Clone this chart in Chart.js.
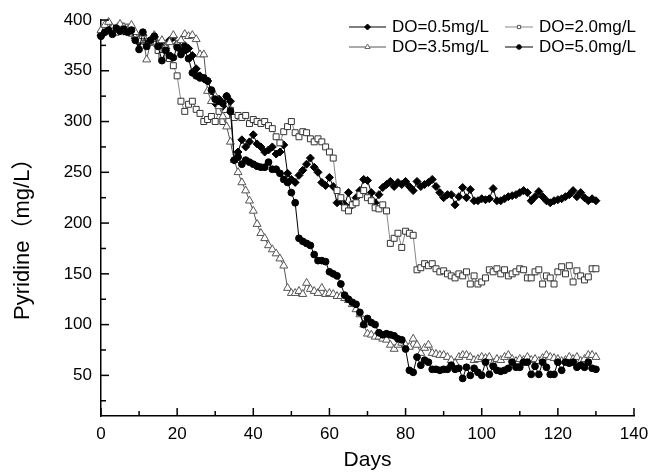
<!DOCTYPE html>
<html>
<head>
<meta charset="utf-8">
<script src="https://cdn.jsdelivr.net/npm/chart.js@4.4.1/dist/chart.umd.min.js"></script>
<style>
  html, body { margin: 0; padding: 0; background: #fff; }
  #wrap { width: 648px; height: 473px; position: relative; }
</style>
</head>
<body>
<div id="wrap"><canvas id="pyridineChart"></canvas></div>
<script>
// --- Data ---
const days = [
  0, 1, 2, 3, 4, 5, 6, 7, 8, 9, 10, 11, 12, 13, 14, 15, 16, 17, 18, 19, 20,
  21, 22, 23, 24, 25, 26, 27, 28, 29, 30, 31, 32, 33, 34, 35, 36, 37, 38, 39, 40,
  41, 42, 43, 44, 45, 46, 47, 48, 49, 50, 51, 52, 53, 54, 55, 56, 57, 58, 59, 60,
  61, 62, 63, 64, 65, 66, 67, 68, 69, 70, 71, 72, 73, 74, 75, 76, 77, 78, 79, 80,
  81, 82, 83, 84, 85, 86, 87, 88, 89, 90, 91, 92, 93, 94, 95, 96, 97, 98, 99, 100,
  101, 102, 103, 104, 105, 106, 107, 108, 109, 110, 111, 112, 113, 114, 115, 116, 117, 118, 119, 120,
  121, 122, 123, 124, 125, 126, 127, 128, 129, 130
];

const do05 = [
  385, 388, 390, 392, 390, 391, 389, 392, 390,
  382, 378, 385, 376, 380, 384, 374, 378, 372, 380, 383, 376,
  370, 375, 372, 365, 352, 345, 342, 340, 330, 318, 322, 315, 325, 320,
  262, 270, 282, 275, 280, 287, 278, 275, 270, 272, 275, 268, 270, 277,
  249, 243, 240, 247, 252, 258, 264, 255, 250, 240, 237, 245,
  236, 220, 222, 218, 230, 218, 225, 232, 243, 242,
  230, 220, 228, 235, 238, 241, 236, 240, 238, 241,
  236, 232, 241, 236, 238, 240, 243, 236, 230, 225,
  228, 228, 218, 226, 235, 225, 233, 222, 222, 224,
  223, 224, 234, 222, 222, 224, 226, 227, 228, 230,
  232, 230, 222, 226, 231, 226, 222, 220, 222, 223,
  224, 226, 228, 232, 226, 230, 225, 222, 224, 222
];

const do20 = [
  386, 390, 395, 392, 388, 394, 390, 393, 387,
  385, 380, 383, 375, 378, 382, 370, 365, 372, 362, 355, 345,
  320, 310, 317, 320, 312, 308, 300, 302, 305, 300, 310, 300, 306, 311,
  304, 306, 304, 306, 298, 302, 300, 298, 300, 296, 293, 285, 279, 290,
  295, 300, 289, 285, 290, 289, 283, 280, 283, 280, 275, 270,
  264, 232, 225, 215, 212, 218, 220, 228, 232, 225,
  222, 215, 214, 218, 212, 180, 185, 190, 176, 192,
  190, 188, 154, 156, 160, 158, 160, 155, 152, 153,
  150, 148, 146, 150, 148, 152, 140, 148, 140, 142,
  146, 154, 152, 155, 150, 154, 148, 150, 152, 155,
  154, 146, 146, 152, 154, 140, 148, 146, 140, 152,
  157, 150, 158, 142, 153, 148, 144, 147, 155, 155
];

const do35 = [
  390, 395, 398, 392, 390, 396, 393, 390, 395,
  388, 380, 384, 361, 378, 385, 376, 380, 372, 378, 385, 376,
  380, 386, 384, 385, 381, 366, 366, 330, 320, 325, 315, 305, 295, 280,
  262, 250, 240, 232, 222, 212, 199, 190, 185, 178, 174, 170, 165, 158,
  136, 131, 131, 133, 130, 141, 135, 133, 131, 136, 130, 131,
  130, 128, 128, 126, 124, 120, 115, 110, 100, 91,
  90, 88, 88, 86, 85, 80, 76, 80, 82, 80,
  78, 86, 80, 72, 77, 80, 72, 71, 70, 70,
  68, 65, 62, 68, 70, 70, 68, 65, 66, 68,
  67, 68, 62, 66, 65, 68, 70, 66, 64, 66,
  65, 68, 65, 66, 64, 67, 70, 68, 67, 66,
  64, 65, 68, 66, 68, 64, 66, 70, 70, 68
];

const do50 = [
  384, 388, 390, 386, 392, 389, 391, 388, 390,
  380, 371, 388, 374, 380, 384, 374, 360, 370, 365, 363, 373,
  366, 370, 362, 348, 345, 343, 343, 340, 331, 322, 320, 318, 325, 310,
  262, 265, 258, 262, 260, 258, 256, 255, 255, 260, 253, 253, 249, 243,
  240, 230, 220, 185, 182, 180, 178, 169, 163, 163, 162, 152,
  150, 148, 140, 129, 125, 122, 120, 112, 100, 106,
  102, 100, 92, 90, 91, 90, 89, 86, 85, 76,
  55, 53, 68, 60, 65, 63, 56, 56, 55, 56,
  56, 60, 56, 57, 47, 58, 50, 57, 53, 50,
  63, 51, 59, 55, 54, 55, 57, 63, 58, 58,
  63, 63, 51, 59, 51, 63, 58, 51, 51, 63,
  55, 63, 62, 63, 58, 60, 58, 63, 57, 56
];

const seriesNames = ['DO=0.5mg/L', 'DO=2.0mg/L', 'DO=3.5mg/L', 'DO=5.0mg/L'];
const yTitle = 'Pyridine（mg/L）';

const xTicks = [0, 20, 40, 60, 80, 100, 120, 140];
const xMinorTicks = [10, 30, 50, 70, 90, 110, 130];
const yTicks = [50, 100, 150, 200, 250, 300, 350, 400];
const yMinorTicks = [25, 75, 125, 175, 225, 275, 325, 375];

// --- Helpers ---
const FONT = '"Liberation Sans", Arial, "Noto Sans CJK SC", sans-serif';
const toPoints = (values) => values.map((v, i) => ({ x: days[i], y: v }));

// --- Styles per series ---
const seriesStyles = [
  { pointStyle: 'rectRot',  radius: 4,   bg: '#000', border: '#000', line: '#000' },
  { pointStyle: 'rect',     radius: 4.2, bg: '#fff', border: '#333', line: '#888' },
  { pointStyle: 'triangle', radius: 4.6, bg: '#fff', border: '#555', line: '#555' },
  { pointStyle: 'circle',   radius: 3.4, bg: '#000', border: '#000', line: '#000' }
];
const seriesValues = [do05, do20, do35, do50];

// --- Inward axis ticks (major + minor) ---
const inwardTicks = {
  id: 'inwardTicks',
  afterDraw(chart) {
    const { ctx, chartArea, scales: { x, y } } = chart;
    ctx.save();
    ctx.strokeStyle = '#000';
    ctx.lineWidth = 1.5;
    const seg = (x1, y1, x2, y2) => { ctx.beginPath(); ctx.moveTo(x1, y1); ctx.lineTo(x2, y2); ctx.stroke(); };
    xTicks.forEach(v => { const p = x.getPixelForValue(v); seg(p, chartArea.bottom, p, chartArea.bottom - 8); });
    xMinorTicks.forEach(v => { const p = x.getPixelForValue(v); seg(p, chartArea.bottom, p, chartArea.bottom - 5); });
    yTicks.forEach(v => { const p = y.getPixelForValue(v); seg(chartArea.left, p, chartArea.left + 8, p); });
    yMinorTicks.forEach(v => { const p = y.getPixelForValue(v); seg(chartArea.left, p, chartArea.left + 5, p); });
    ctx.restore();
  }
};

// --- Y axis title, placed like the original (starts low, reads upward) ---
const yAxisTitle = {
  id: 'yAxisTitle',
  afterDraw(chart) {
    const { ctx } = chart;
    ctx.save();
    ctx.translate(23, 320);
    ctx.rotate(-Math.PI / 2);
    ctx.font = '22px ' + FONT;
    ctx.fillStyle = '#000';
    ctx.textAlign = 'left';
    ctx.textBaseline = 'middle';
    ctx.fillText(yTitle, 0, 0);
    ctx.restore();
  }
};

// --- Legend drawn inside the plot, two columns ---
const insideLegend = {
  id: 'insideLegend',
  afterDraw(chart) {
    const { ctx } = chart;
    const cols = [{ x1: 349, x2: 386, tx: 392 }, { x1: 505, x2: 533, tx: 539 }];
    const rows = [27, 47];
    const legendMarkers = [
      { style: 'rectRot', r: 3, fill: '#000', stroke: '#000' },
      { style: 'rect', r: 1.6, fill: '#fff', stroke: '#555' },
      { style: 'triangle', r: 3, fill: '#fff', stroke: '#666' },
      { style: 'circle', r: 2.3, fill: '#000', stroke: '#000' }
    ];
    const order = [[0, 0, 0], [1, 0, 1], [2, 1, 0], [3, 1, 1]]; // series, row, col
    ctx.save();
    ctx.font = '17px ' + FONT;
    ctx.textBaseline = 'middle';
    ctx.textAlign = 'left';
    order.forEach(([s, r, c]) => {
      const col = cols[c], yy = rows[r];
      ctx.strokeStyle = seriesStyles[s].line;
      ctx.lineWidth = 1;
      ctx.beginPath(); ctx.moveTo(col.x1, yy); ctx.lineTo(col.x2, yy); ctx.stroke();
      const m = legendMarkers[s];
      const cx = (col.x1 + col.x2) / 2;
      ctx.fillStyle = m.fill; ctx.strokeStyle = m.stroke;
      ctx.beginPath();
      if (m.style === 'rectRot') {
        ctx.moveTo(cx, yy - m.r); ctx.lineTo(cx + m.r, yy); ctx.lineTo(cx, yy + m.r); ctx.lineTo(cx - m.r, yy);
      } else if (m.style === 'rect') {
        ctx.rect(cx - m.r, yy - m.r, 2 * m.r, 2 * m.r);
      } else if (m.style === 'triangle') {
        ctx.moveTo(cx, yy - m.r); ctx.lineTo(cx + m.r * 0.87, yy + m.r * 0.5); ctx.lineTo(cx - m.r * 0.87, yy + m.r * 0.5);
      } else {
        ctx.arc(cx, yy, m.r, 0, Math.PI * 2);
      }
      ctx.closePath(); ctx.fill(); ctx.stroke();
      ctx.fillStyle = '#000';
      ctx.fillText(seriesNames[s], col.tx, yy);
    });
    ctx.restore();
  }
};

// --- Chart ---
const ctx = document.getElementById('pyridineChart').getContext('2d');
const datasets = seriesValues.map((vals, i) => ({
  label: seriesNames[i],
  data: toPoints(vals),
  showLine: true,
  borderColor: seriesStyles[i].line,
  borderWidth: 1,
  pointStyle: seriesStyles[i].pointStyle,
  pointRadius: seriesStyles[i].radius,
  pointBackgroundColor: seriesStyles[i].bg,
  pointBorderColor: seriesStyles[i].border,
  pointBorderWidth: 1,
  tension: 0,
  clip: false,
  order: 3 - i
}));

new Chart(ctx, {
  type: 'scatter',
  data: { datasets },
  options: {
    responsive: true,
    maintainAspectRatio: false,
    animation: false,
    layout: { padding: { top: 20, right: 14, left: 0, bottom: 0 } },
    plugins: { legend: { display: false }, tooltip: { enabled: false } },
    scales: {
      x: {
        type: 'linear',
        min: 0,
        max: 140,
        afterBuildTicks: (scale) => { scale.ticks = xTicks.map(v => ({ value: v })); },
        afterFit: (scale) => { scale.height = 57; scale.paddingRight = 0; scale.paddingLeft = 0; },
        grid: { display: false, drawTicks: false },
        border: { display: true, color: '#000', width: 1.5 },
        ticks: { color: '#000', padding: 8, maxRotation: 0, font: { family: FONT, size: 17 } },
        title: { display: true, text: 'Days', color: '#000', padding: { top: 0, bottom: 0 }, font: { family: FONT, size: 21 } }
      },
      y: {
        type: 'linear',
        min: 10,
        max: 400,
        afterBuildTicks: (scale) => { scale.ticks = yTicks.map(v => ({ value: v })); },
        afterFit: (scale) => { scale.width = 101; },
        grid: { display: false, drawTicks: false },
        border: { display: true, color: '#000', width: 1.5 },
        ticks: { color: '#000', padding: 9, font: { family: FONT, size: 17 } },
        title: { display: false, text: yTitle }
      }
    }
  },
  plugins: [inwardTicks, yAxisTitle, insideLegend]
});
</script>
</body>
</html>
